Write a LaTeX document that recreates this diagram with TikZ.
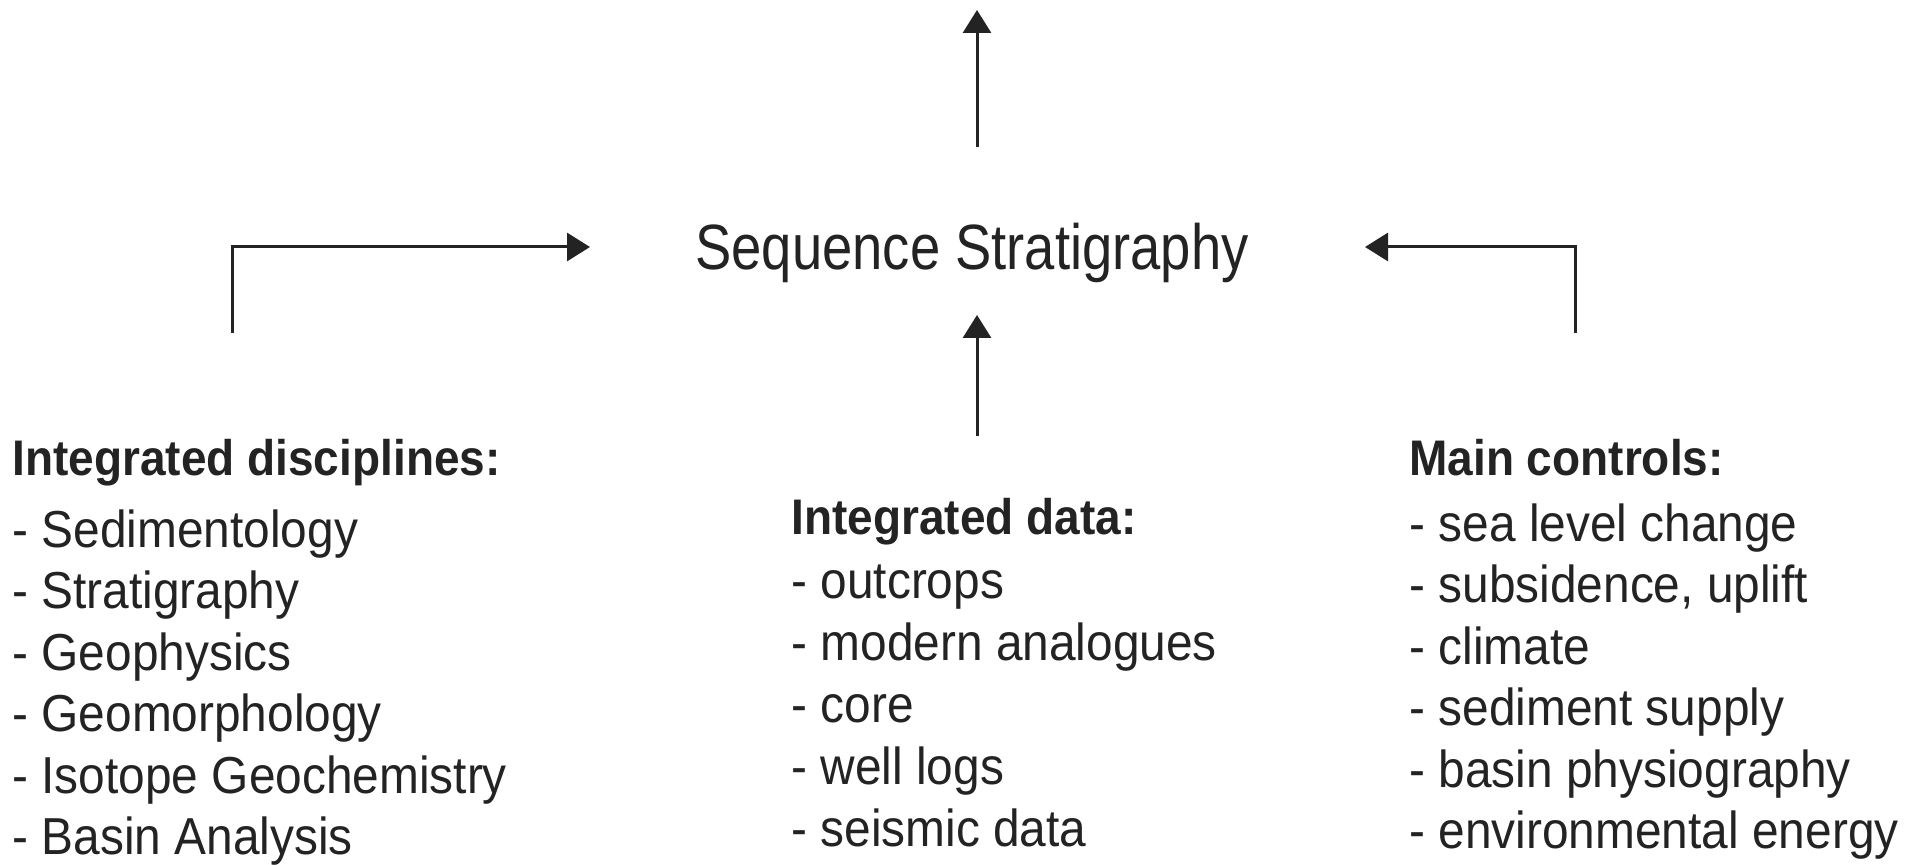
\documentclass[tikz,border=0pt]{standalone}
\usepackage{fontspec}
\setmainfont{Liberation Sans}[FakeStretch=0.92]
\newfontfamily\titlefont{Liberation Sans}[FakeStretch=0.85]
\usetikzlibrary{arrows.meta}
\definecolor{ink}{HTML}{232323}
\tikzset{
  txt/.style={inner sep=0pt, anchor=base west, text=ink, font=\fontsize{26}{30}\selectfont},
  head/.style={txt, font=\fontsize{25}{30}\selectfont\bfseries},
  title/.style={inner sep=0pt, text=ink, font=\titlefont\fontsize{32}{36}\selectfont},
  link/.style={draw=ink, line width=1.5pt, -{Triangle[length=11.5pt,width=14pt]}},
}
\begin{document}
\begin{tikzpicture}[x=0.5pt,y=-0.5pt]
\useasboundingbox (0,0) rectangle (1915,865);

% central concept
\node[title, anchor=base] (seq) at (972,270) {Sequence Stratigraphy};

% output of the concept, leaving the top edge
\coordinate (up) at (977,10);
\coordinate (upfoot) at (977,147);
\draw[link] (upfoot) -- (up);

% left column: disciplines
\node[head] (disc) at (12,476) {Integrated disciplines:};
\foreach \t [count=\i] in {Sedimentology, Stratigraphy, Geophysics, Geomorphology, Isotope Geochemistry, Basin Analysis}
  \node[txt] (disc\i) at (12,{547+61.5*(\i-1)}) {- \t};

% middle column: data
\node[head] (data) at (791,534) {Integrated data:};
\foreach \t [count=\i] in {outcrops, modern analogues, core, well logs, seismic data}
  \node[txt] (data\i) at (791,{598+62*(\i-1)}) {- \t};

% right column: controls
\node[head] (ctrl) at (1409,476) {Main controls:};
\foreach \t [count=\i] in {sea level change, {subsidence, uplift}, climate, sediment supply, basin physiography, environmental energy}
  \node[txt] (ctrl\i) at (1409,{541+61.5*(\i-1)}) {- \t};

% connectors into the concept
\coordinate (discfoot) at (232,333);
\coordinate (ctrlfoot) at (1575,333);
\coordinate (datafoot) at (977,436);
\coordinate (seqL) at (590,247);
\coordinate (seqR) at (1365,247);
\coordinate (seqB) at (977,315);
\draw[link] (discfoot) |- (seqL);
\draw[link] (ctrlfoot) |- (seqR);
\draw[link] (datafoot) -- (seqB);
\end{tikzpicture}
\end{document}
